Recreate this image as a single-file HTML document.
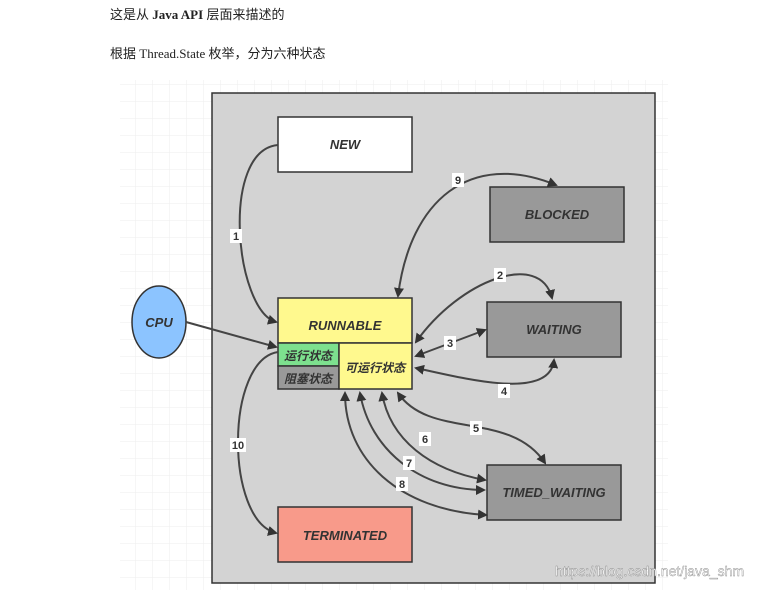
<!DOCTYPE html>
<html><head><meta charset="utf-8"><style>
body{margin:0;background:#fff;width:781px;height:590px;overflow:hidden;font-family:"Liberation Serif","Noto Sans CJK SC",serif}
.t{position:absolute;font-size:13px;color:#222}
</style></head><body>
<div class="t" style="left:110px;top:4px">这是从 <b>Java API</b> 层面来描述的</div>
<div class="t" style="left:110px;top:43px">根据 Thread.State 枚举，分为六种状态</div>
<svg width="781" height="590" style="position:absolute;left:0;top:0">
<defs>
<pattern id="g" width="17" height="17" patternUnits="userSpaceOnUse"><path d="M17 0V17H0" fill="none" stroke="#ededed" stroke-width="1"/></pattern>
<marker id="a" markerWidth="10" markerHeight="10" refX="8" refY="5" orient="auto-start-reverse" markerUnits="userSpaceOnUse"><path d="M0,0L10,5L0,10z" fill="#333"/></marker>
</defs>
<rect x="120" y="80" width="548" height="510" fill="url(#g)"/>
<rect x="212" y="93" width="443" height="490" fill="#d3d3d3" stroke="#333" stroke-width="1.5"/>
<g font-family="Liberation Sans,Noto Sans CJK SC,sans-serif" font-weight="bold" font-style="italic" font-size="13" fill="#333" text-anchor="middle">
<rect x="278" y="117" width="134" height="55" fill="#fff" stroke="#333" stroke-width="1.5"/><text x="345" y="149">NEW</text>
<rect x="490" y="187" width="134" height="55" fill="#999" stroke="#333" stroke-width="1.5"/><text x="557" y="219">BLOCKED</text>
<rect x="487" y="302" width="134" height="55" fill="#999" stroke="#333" stroke-width="1.5"/><text x="554" y="334">WAITING</text>
<rect x="487" y="465" width="134" height="55" fill="#999" stroke="#333" stroke-width="1.5"/><text x="554" y="497">TIMED_WAITING</text>
<rect x="278" y="507" width="134" height="55" fill="#f89a8a" stroke="#333" stroke-width="1.5"/><text x="345" y="540">TERMINATED</text>
<rect x="278" y="298" width="134" height="45" fill="#fff98e" stroke="#333" stroke-width="1.5"/><text x="345" y="330">RUNNABLE</text>
<rect x="278" y="343" width="61" height="23" fill="#7de08e" stroke="#333" stroke-width="1.5"/><text x="308" y="360" font-size="12">运行状态</text>
<rect x="278" y="366" width="61" height="23" fill="#999" stroke="#333" stroke-width="1.5"/><text x="308" y="383" font-size="12">阻塞状态</text>
<rect x="339" y="343" width="73" height="46" fill="#fff98e" stroke="#333" stroke-width="1.5"/><text x="375" y="372" font-size="12">可运行状态</text>
<ellipse cx="159" cy="322" rx="27" ry="36" fill="#8cc4ff" stroke="#333" stroke-width="1.5"/><text x="159" y="327">CPU</text>
</g>
<g fill="none" stroke="#444" stroke-width="2" marker-end="url(#a)">
<path d="M278,145 C220,150 235,310 276,322"/>
<path d="M186,322 L276,347"/>
<path d="M278,352 C225,360 225,520 276,533"/>
</g>
<g fill="none" stroke="#444" stroke-width="2" marker-end="url(#a)" marker-start="url(#a)">
<path d="M398,296 C410,200 470,150 556,185"/>
<path d="M416,342 C460,280 540,250 552,298"/>
<path d="M485,330 L416,356"/>
<path d="M554,360 C550,400 470,380 416,368"/>
<path d="M398,393 C430,440 510,410 545,463"/>
<path d="M485,480 C430,470 390,440 382,393"/>
<path d="M484,490 C420,490 370,450 360,393"/>
<path d="M486,515 C400,510 345,460 345,393"/>
</g>
<g font-family="Liberation Sans,sans-serif" font-weight="bold" font-size="11" fill="#333" text-anchor="middle">
<rect x="230" y="229" width="12" height="14" fill="#fff"/><text x="236" y="240">1</text>
<rect x="452" y="173" width="12" height="14" fill="#fff"/><text x="458" y="184">9</text>
<rect x="494" y="268" width="12" height="14" fill="#fff"/><text x="500" y="279">2</text>
<rect x="444" y="336" width="12" height="14" fill="#fff"/><text x="450" y="347">3</text>
<rect x="498" y="384" width="12" height="14" fill="#fff"/><text x="504" y="395">4</text>
<rect x="470" y="421" width="12" height="14" fill="#fff"/><text x="476" y="432">5</text>
<rect x="419" y="432" width="12" height="14" fill="#fff"/><text x="425" y="443">6</text>
<rect x="403" y="456" width="12" height="14" fill="#fff"/><text x="409" y="467">7</text>
<rect x="396" y="477" width="12" height="14" fill="#fff"/><text x="402" y="488">8</text>
<rect x="230" y="438" width="16" height="14" fill="#fff"/><text x="238" y="449">10</text>
</g>
<text x="555" y="576" font-family="Liberation Sans,sans-serif" font-size="14" fill="#fff" stroke="#888" stroke-width="0.4">https://blog.csdn.net/java_shm</text>
</svg>
</body></html>
